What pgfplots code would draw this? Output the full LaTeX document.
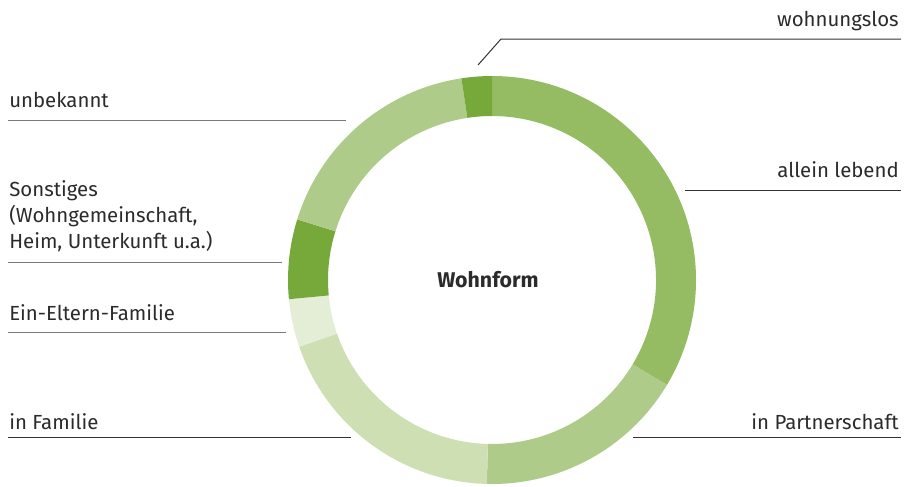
\documentclass[border=0pt]{standalone}
\usepackage{pgfplots}
\pgfplotsset{compat=1.18}
\usepackage{pgfplotstable}
\usepackage{fontspec}
\setmainfont{Fira Sans}
\definecolor{cA}{HTML}{95BC62}
\definecolor{cB}{HTML}{AFCB89}
\definecolor{cC}{HTML}{CDDFB3}
\definecolor{cD}{HTML}{E4EED7}
\definecolor{cE}{HTML}{76A93A}
\definecolor{txt}{HTML}{2B2B2B}
\definecolor{ldark}{HTML}{333333}
\definecolor{lgray}{HTML}{7A7A7A}
\pgfplotstableread[col sep=comma]{
label,value,color
allein lebend,33.6,cA
in Partnerschaft,16.8,cB
in Familie,19.3,cC
Ein-Eltern-Familie,3.8,cD
Sonstiges,6.3,cE
unbekannt,17.8,cB
wohnungslos,2.4,cE
}\wohndata
\begin{document}
\begin{tikzpicture}
\begin{axis}[
  scale only axis, width=681.75pt, height=364.5pt,
  xmin=0, xmax=909, ymin=0, ymax=486, y dir=reverse,
  hide axis, clip=false,
]
\def\cum{0}
\pgfplotsforeachungrouped \i in {0,...,6}{%
  \pgfplotstablegetelem{\i}{value}\of\wohndata \let\v\pgfplotsretval
  \pgfplotstablegetelem{\i}{color}\of\wohndata \let\col\pgfplotsretval
  \pgfmathsetmacro\aS{90-3.6*\cum}%
  \pgfmathsetmacro\aE{90-3.6*(\cum+\v)}%
  \edef\temp{\noexpand\fill[\col] (axis cs:492,280) ++(\aS:153pt) arc[start angle=\aS, end angle=\aE, radius=153pt] -- ++(\aE:-30pt) arc[start angle=\aE, end angle=\aS, radius=123pt] -- cycle;}%
  \temp
  \pgfmathsetmacro\cum{\cum+\v}%
}
% centre title
\node[font=\fontsize{16pt}{19pt}\selectfont\bfseries, text=txt, anchor=base] at (axis cs:488,287.5) {Wohnform};
% labels
\tikzset{lab/.style={font=\fontsize{15.3pt}{19.5pt}\selectfont, text=txt, inner sep=0pt}}
\node[lab, anchor=base east] at (axis cs:899,26) {wohnungslos};
\draw[ldark, line width=0.75pt] (axis cs:478,65) -- (axis cs:501,39) -- (axis cs:901,39);
\node[lab, anchor=base east] at (axis cs:899,177.5) {allein lebend};
\draw[ldark, line width=0.75pt] (axis cs:685,190) -- (axis cs:901,190);
\node[lab, anchor=base east] at (axis cs:899,429.5) {in Partnerschaft};
\draw[ldark, line width=0.75pt] (axis cs:633,437.5) -- (axis cs:901,437.5);
\node[lab, anchor=base west] at (axis cs:9,107.5) {unbekannt};
\draw[lgray, line width=0.75pt] (axis cs:8,120) -- (axis cs:346,120);
\node[lab, anchor=base west] at (axis cs:9,196) {Sonstiges};
\node[lab, anchor=base west] at (axis cs:9,222) {(Wohngemeinschaft,};
\node[lab, anchor=base west] at (axis cs:9,248) {Heim, Unterkunft u.a.)};
\draw[lgray, line width=0.75pt] (axis cs:8,262) -- (axis cs:282,262);
\node[lab, anchor=base west] at (axis cs:9,320.5) {Ein-Eltern-Familie};
\draw[lgray, line width=0.75pt] (axis cs:8,332) -- (axis cs:286,332);
\node[lab, anchor=base west] at (axis cs:9,429.5) {in Familie};
\draw[ldark, line width=0.75pt] (axis cs:8,437.5) -- (axis cs:351,437.5);
\end{axis}
\pgfresetboundingbox
\path (current axis.south west) rectangle (current axis.north east);
\end{tikzpicture}
\end{document}
